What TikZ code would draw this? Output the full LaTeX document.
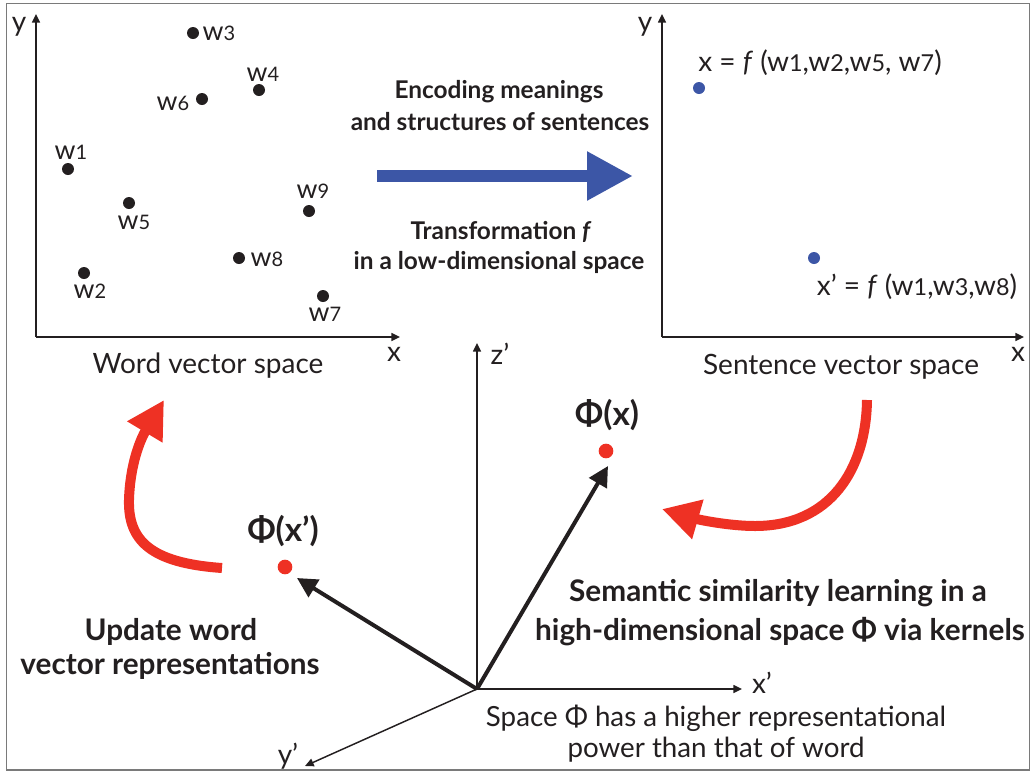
\documentclass[tikz,border=0pt]{standalone}
\usepackage{fontspec}
\setmainfont{Lato}
\usetikzlibrary{arrows.meta}
\definecolor{myblue}{HTML}{3C56A6}
\definecolor{myred}{HTML}{EE3124}
\definecolor{framegray}{HTML}{7A7A7A}
\definecolor{ink}{HTML}{231F20}
\newcommand{\dg}[1]{{\fontsize{15}{15}\selectfont #1}}
\newcommand{\dgb}[1]{{\fontsize{17.5}{17.5}\selectfont #1}}
\begin{document}
\begin{tikzpicture}[x=0.75pt,y=-0.75pt,
  every node/.style={inner sep=0pt, text=ink},
  lab/.style={font=\fontsize{21}{25}\selectfont},
  wlab/.style={font=\fontsize{20}{24}\selectfont},
  midtxt/.style={font=\fontsize{18.3}{22}\selectfont\bfseries},
  bigtxt/.style={font=\fontsize{22.3}{26}\selectfont\bfseries},
  phitxt/.style={font=\fontsize{25}{28}\selectfont\bfseries},
  spacetxt/.style={font=\fontsize{20.8}{24}\selectfont},
  wdot/.style={circle, fill=ink, minimum size=9pt},
  bdot/.style={circle, fill=myblue, minimum size=9pt},
  rdot/.style={circle, fill=myred, minimum size=11pt},
  axis/.style={draw=ink, line width=1.1pt, -{Triangle[length=6.5pt,width=6pt]}},
  thickarr/.style={draw=ink, line width=3pt, -{Triangle[length=15pt,width=15pt]}},
  redarr/.style={draw=myred, line width=7.5pt, -{Triangle[length=28pt,width=29pt]}},
  bluearr/.style={draw=myblue, line width=9pt, -{Triangle[length=34.5pt,width=34.5pt]}}
]
\useasboundingbox (0,0) rectangle (1032,772);
\draw[framegray, line width=1.1pt] (6.5,3.5) rectangle (1029.5,770);

% ---------- word vector space ----------
\coordinate (LO) at (36,337);
\coordinate (LY) at (36,14);
\coordinate (LX) at (400,337);
\draw[axis] (LO) -- (LY);
\draw[axis] (LO) -- (LX);
\node[lab] (ly) at (19,27) {y};
\node[lab] (lx) at (394,354) {x};

\node[wdot] (w1) at (68,169) {};
\node[wdot] (w2) at (84,273) {};
\node[wdot] (w3) at (193,33) {};
\node[wdot] (w4) at (259,90) {};
\node[wdot] (w5) at (129,203) {};
\node[wdot] (w6) at (202,99) {};
\node[wdot] (w7) at (323,296) {};
\node[wdot] (w8) at (239,258) {};
\node[wdot] (w9) at (309,211) {};
\node[wlab] (lw1) at (71,152) {w\dg{1}};
\node[wlab] (lw2) at (90,291) {w\dg{2}};
\node[wlab] (lw3) at (219,33) {w\dg{3}};
\node[wlab] (lw4) at (263,74) {w\dg{4}};
\node[wlab] (lw5) at (134,222) {w\dg{5}};
\node[wlab] (lw6) at (173,103) {w\dg{6}};
\node[wlab] (lw7) at (325,314) {w\dg{7}};
\node[wlab] (lw8) at (267,259) {w\dg{8}};
\node[wlab] (lw9) at (313,191) {w\dg{9}};
\node[lab] (wvs) at (208,366) {Word vector space};

% ---------- transformation ----------
\node[midtxt] (enc1) at (499,92) {Encoding meanings};
\node[midtxt] (enc2) at (500,122) {and structures of sentences};
\coordinate (ba) at (377,176);
\coordinate (bb) at (633,176);
\draw[bluearr] (ba) -- (bb);
\node[midtxt] (tr1) at (501,232) {Transformation \textit{f}};
\node[midtxt] (tr2) at (499,262) {in a low-dimensional space};

% ---------- sentence vector space ----------
\coordinate (RO) at (662,337);
\coordinate (RY) at (662,14);
\coordinate (RX) at (1024,337);
\draw[axis] (RO) -- (RY);
\draw[axis] (RO) -- (RX);
\node[lab] (ry) at (645,27) {y};
\node[lab] (rx) at (1018,354) {x};
\node[bdot] (sx) at (699,88) {};
\node[bdot] (sxp) at (814,258) {};
\node[lab] (lsx) at (820,63) {x = \textit{f} (w\dgb{1},w\dgb{2},w\dgb{5}, w\dgb{7})};
\node[lab] (lsxp) at (917,287) {x’ = \textit{f} (w\dgb{1},w\dgb{3},w\dgb{8})};
\node[lab] (svs) at (841,367) {Sentence vector space};

% ---------- feature space ----------
\coordinate (O) at (477,689);
\coordinate (ZT) at (477,343);
\coordinate (XT) at (742,689);
\coordinate (YT) at (305,766);
\draw[axis] (O) -- (ZT);
\draw[axis] (O) -- (XT);
\draw[axis] (O) -- (YT);
\node[lab] (lz) at (500,354) {z’};
\node[lab] (lxx) at (762,683) {x’};
\node[lab] (lyy) at (288,756) {y’};

\node[rdot] (px) at (606,451) {};
\node[rdot] (pxp) at (285,567) {};
\coordinate (tpx) at (608,466);
\coordinate (tpxp) at (297,578);
\draw[thickarr] (O) -- (tpx);
\draw[thickarr] (O) -- (tpxp);
\node[phitxt] (lpx) at (607,415) {Φ(x)};
\node[phitxt] (lpxp) at (283,531) {Φ(x’)};

% red curved arrows
\coordinate (ra1) at (222,568);
\coordinate (ra2) at (164,400);
\draw[redarr] (ra1) .. controls (150,563) and (128,540) .. (129,500)
  .. controls (130,465) and (140,440) .. (ra2);
\coordinate (rb1) at (867,400);
\coordinate (rb2) at (662,509);
\draw[redarr] (rb1) .. controls (866,470) and (830,526) .. (755,526)
  .. controls (730,526) and (700,520) .. (rb2);

\node[bigtxt] (up1) at (171,632) {Update word};
\node[bigtxt] (up2) at (170,666) {vector representations};
\node[bigtxt] (sem1) at (778,593) {Semantic similarity learning in a};
\node[bigtxt] (sem2) at (780,632) {high-dimensional space Φ via kernels};
\node[spacetxt] (sp1) at (716,718) {Space Φ has a higher representational};
\node[spacetxt] (sp2) at (716,750) {power than that of word};
\end{tikzpicture}
\end{document}
